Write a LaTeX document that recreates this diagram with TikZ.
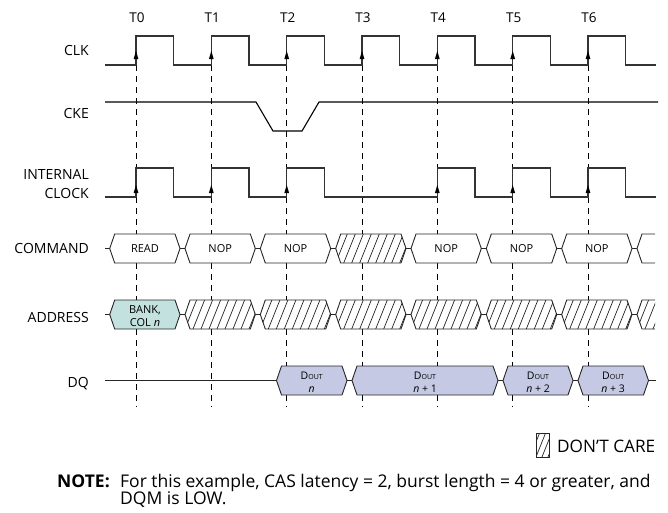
\documentclass[tikz,border=0pt]{standalone}
\usepackage{fontspec}
\setmainfont{Open Sans}
\usetikzlibrary{arrows.meta}
\definecolor{addrfill}{HTML}{C3E1DE}
\definecolor{dqfill}{HTML}{C5C9E3}
\newcommand{\hexdraw}[4]{%
  \draw[bus,#4] (#1,#3) -- (#1+5,#3-14.5) -- (#2-5,#3-14.5) -- (#2,#3) -- (#2-5,#3+14.5) -- (#1+5,#3+14.5) -- cycle;}
\newcommand{\hexhatch}[3]{%
  \fill[white] (#1,#3) -- (#1+5,#3-14.5) -- (#2-5,#3-14.5) -- (#2,#3) -- (#2-5,#3+14.5) -- (#1+5,#3+14.5) -- cycle;
  \begin{scope}
    \clip (#1,#3) -- (#1+5,#3-14.5) -- (#2-5,#3-14.5) -- (#2,#3) -- (#2-5,#3+14.5) -- (#1+5,#3+14.5) -- cycle;
    \foreach \s in {-16,-8,...,80} \draw[hatchline] (#1+\s,#3+14.5) -- ++(11.6,-29);
  \end{scope}
  \draw[bus] (#1,#3) -- (#1+5,#3-14.5) -- (#2-5,#3-14.5) -- (#2,#3) -- (#2-5,#3+14.5) -- (#1+5,#3+14.5) -- cycle;}
\begin{document}
\begin{tikzpicture}[x=1pt,y=-1pt,
  sig/.style={line width=1.1pt,draw=black!80},
  bus/.style={line width=0.9pt,draw=black!85},
  gridline/.style={line width=0.8pt,draw=black,dash pattern=on 6pt off 5pt},
  hatchline/.style={line width=0.7pt,draw=black!85},
  lbl/.style={font=\fontsize{14}{16}\selectfont,anchor=base east,inner sep=0pt},
  tlbl/.style={font=\fontsize{13.5}{15}\selectfont,anchor=base,inner sep=0pt},
  boxtxt/.style={font=\fontsize{11}{13}\selectfont,inner sep=0pt,anchor=base},
  dqtxt/.style={font=\fontsize{10.5}{12}\selectfont,inner sep=0pt,anchor=base},
  notetxt/.style={font=\fontsize{17.5}{19}\selectfont,inner sep=0pt,anchor=base west},
]
\useasboundingbox (0,0) rectangle (668,512);

% time labels
\foreach \t/\n in {136/0,211.3/1,286.7/2,362/3,437.3/4,512.7/5,588/6}
  \node[tlbl] (T\n) at (\t+1,22) {T\n};

% dashed reference lines
\foreach \t in {136,211.3,286.7,362,437.3,512.7,588}
  \draw[gridline] (\t,65) -- (\t,407);

% signal labels
\node[lbl] (lclk) at (89,55) {CLK};
\node[lbl] (lcke) at (89,118) {CKE};
\node[lbl] (lint1) at (89,179) {INTERNAL};
\node[lbl] (lint2) at (89,198) {CLOCK};
\node[lbl] (lcmd) at (89,253) {COMMAND};
\node[lbl] (ladr) at (89,322) {ADDRESS};
\node[lbl] (ldq) at (89,387) {DQ};

% CLK
\draw[sig] (105,65) \foreach \t in {136,211.3,286.7,362,437.3,512.7,588} { -- (\t,65) -- (\t,36) -- (\t+37.7,36) -- (\t+37.7,65) } -- (656,65);
\foreach \t in {136,211.3,286.7,362,437.3,512.7,588}
  \fill[black] (\t,51) -- (\t-2.4,59) -- (\t+2.4,59) -- cycle;

% CKE
\draw[sig,draw=black] (105,102) -- (256,102) -- (273,131) -- (302,131) -- (319,102) -- (658,102);

% INTERNAL CLOCK
\draw[sig] (105,197) \foreach \t in {136,211.3,286.7,437.3,512.7,588} { -- (\t,197) -- (\t,168) -- (\t+37.7,168) -- (\t+37.7,197) } -- (656,197);
\foreach \t in {136,211.3,286.7,437.3,512.7,588}
  \fill[black] (\t,185) -- (\t-2.4,193) -- (\t+2.4,193) -- cycle;

% COMMAND bus
\draw[bus] (105,248.5) -- (109.7,248.5);
\foreach \c in {182.5,257.8,333.2,408.5,483.8,559.2,634.5}
  \draw[bus] (\c-2.5,248.5) -- (\c+2.5,248.5);
\hexdraw{109.7}{180}{248.5}{fill=white}
\hexdraw{185}{255.3}{248.5}{fill=white}
\hexdraw{260.3}{330.7}{248.5}{fill=white}
\hexhatch{335.7}{406}{248.5}
\hexdraw{411}{481.3}{248.5}{fill=white}
\hexdraw{486.3}{556.7}{248.5}{fill=white}
\hexdraw{561.7}{632}{248.5}{fill=white}
\fill[white] (637,248.5) -- (642,234) -- (655,234) -- (655,263) -- (642,263) -- cycle;
\draw[bus] (655,234) -- (642,234) -- (637,248.5) -- (642,263) -- (655,263);
\node[boxtxt] (c0) at (145,252) {READ};
\node[boxtxt] (c1) at (220.2,252) {NOP};
\node[boxtxt] (c2) at (295.5,252) {NOP};
\node[boxtxt] (c4) at (446.2,252) {NOP};
\node[boxtxt] (c5) at (521.5,252) {NOP};
\node[boxtxt] (c6) at (596.8,252) {NOP};

% ADDRESS bus
\draw[bus] (105,314.5) -- (109.7,314.5);
\foreach \c in {182.5,257.8,333.2,408.5,483.8,559.2,634.5}
  \draw[bus] (\c-2.5,314.5) -- (\c+2.5,314.5);
\hexdraw{109.7}{180}{314.5}{fill=addrfill}
\hexhatch{185}{255.3}{314.5}
\hexhatch{260.3}{330.7}{314.5}
\hexhatch{335.7}{406}{314.5}
\hexhatch{411}{481.3}{314.5}
\hexhatch{486.3}{556.7}{314.5}
\hexhatch{561.7}{632}{314.5}
\fill[white] (637,314.5) -- (642,300) -- (655,300) -- (655,329) -- (642,329) -- cycle;
\begin{scope}
  \clip (637,314.5) -- (642,300) -- (655,300) -- (655,329) -- (642,329) -- cycle;
  \foreach \s in {-16,-8,...,24} \draw[hatchline] (637+\s,329) -- ++(11.6,-29);
\end{scope}
\draw[bus] (655,300) -- (642,300) -- (637,314.5) -- (642,329) -- (655,329);
\node[boxtxt] (a0a) at (145,313.5) {BANK,};
\node[boxtxt] (a0b) at (145,326) {COL \textit{n}};

% DQ bus
\draw[bus] (105,380.5) -- (276.5,380.5);
\foreach \c in {349.5,500.5,575.5}
  \draw[bus] (\c-2.5,380.5) -- (\c+2.5,380.5);
\draw[bus] (648.5,380.5) -- (656,380.5);
\hexdraw{276.5}{347}{380.5}{fill=dqfill}
\hexdraw{352}{498}{380.5}{fill=dqfill}
\hexdraw{503}{573}{380.5}{fill=dqfill}
\hexdraw{578}{648.5}{380.5}{fill=dqfill}
\node[dqtxt] (d0a) at (311.7,379) {D{\fontsize{7}{8}\selectfont OUT}};
\node[dqtxt] (d0b) at (311.7,392) {\textit{n}};
\node[dqtxt] (d1a) at (425,379) {D{\fontsize{7}{8}\selectfont OUT}};
\node[dqtxt] (d1b) at (425,392) {\textit{n} + 1};
\node[dqtxt] (d2a) at (538,379) {D{\fontsize{7}{8}\selectfont OUT}};
\node[dqtxt] (d2b) at (538,392) {\textit{n} + 2};
\node[dqtxt] (d3a) at (613.2,379) {D{\fontsize{7}{8}\selectfont OUT}};
\node[dqtxt] (d3b) at (613.2,392) {\textit{n} + 3};

% legend
\begin{scope}
  \clip (536,433) rectangle (549,457);
  \foreach \s in {-12,-6,...,18} \draw[hatchline] (536+\s,457) -- ++(9.6,-24);
\end{scope}
\draw[bus] (536,433) rectangle (549,457);
\node[font=\fontsize{17.2}{18}\selectfont,anchor=base west,inner sep=0pt] (dc) at (557,452) {DON’T CARE};

% note
\node[notetxt,font=\fontsize{17.5}{19}\selectfont\bfseries] (note) at (57,487) {NOTE:};
\node[notetxt] (n1) at (120,487) {For this example, CAS latency = 2, burst length = 4 or greater, and};
\node[notetxt] (n2) at (120,504) {DQM is LOW.};
\end{tikzpicture}
\end{document}
